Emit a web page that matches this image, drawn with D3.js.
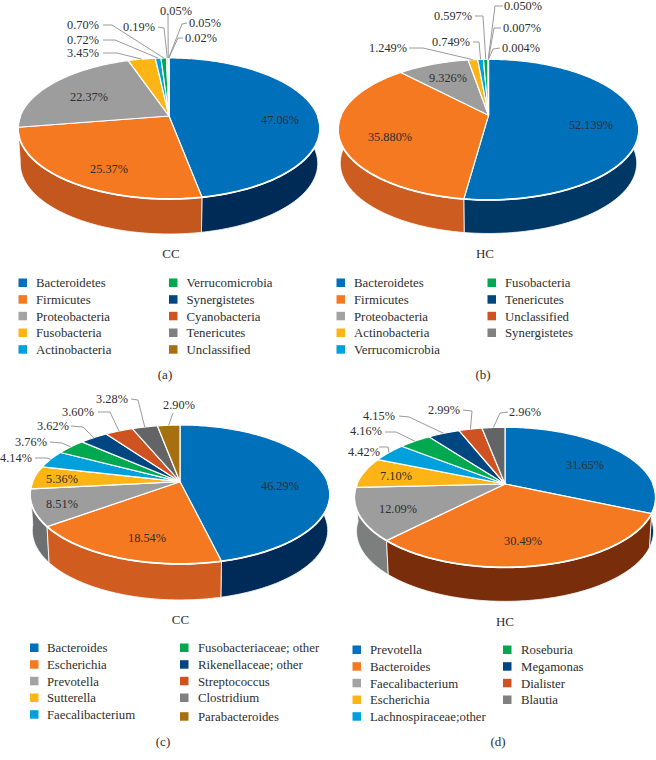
<!DOCTYPE html>
<html>
<head>
<meta charset="utf-8">
<script src="https://cdn.jsdelivr.net/npm/d3@7"></script>
<style>
  body { margin: 0; background: #fff; }
  text { font-family: "Liberation Serif", serif; fill: #2e2e2e; }
</style>
</head>
<body>
<div id="chart"></div>
<script>
// Panel (a) phylum, CC
var aNames = ["Bacteroidetes","Firmicutes","Proteobacteria","Fusobacteria","Actinobacteria","Verrucomicrobia","Synergistetes","Cyanobacteria","Tenericutes","Unclassified"];
var aValues = [47.06,25.37,22.37,3.45,0.72,0.70,0.19,0.05,0.05,0.02];

// Panel (b) phylum, HC
var bNames = ["Bacteroidetes","Firmicutes","Proteobacteria","Actinobacteria","Verrucomicrobia","Fusobacteria","Tenericutes","Unclassified","Synergistetes"];
var bValues = [52.139,35.880,9.326,1.249,0.749,0.597,0.050,0.007,0.004];

// Panel (c) genus, CC
var cNames = ["Bacteroides","Escherichia","Prevotella","Sutterella","Faecalibacterium","Fusobacteriaceae; other","Rikenellaceae; other","Streptococcus","Clostridium","Parabacteroides"];
var cValues = [46.29,18.54,8.51,5.36,4.14,3.76,3.62,3.60,3.28,2.90];

// Panel (d) genus, HC
var dNames = ["Prevotella","Bacteroides","Faecalibacterium","Escherichia","Lachnospiraceae;other","Roseburia","Megamonas","Dialister","Blautia"];
var dValues = [31.65,30.49,12.09,7.10,4.42,4.16,4.15,2.99,2.96];

var topColors = ["#0070ba","#f47920","#9d9d9d","#fdb515","#00a0dc","#00a950","#004680","#cf5320","#636466","#a67011"];
var swatchColors = ["#0070ba","#f47920","#a3a3a3","#fdb515","#00a0dc","#00a950","#004680","#cf5320","#808080","#a67011"];

// Label layout: x, y of each label centre, then the elbow and start of its leader if it has one
var aLabels = [[280,120],[109,169],[89,97],
    [83,53,103,53,117,53],[83,40,103,40,115,40],[83,25,103,25,112,25],[139,27,158,27,164,28],
    [176,11,168,15,168,15],[205,23,187,23,182,24],[201,38,183,38,178,38]];
var bLabels = [[591,125],[390,137],[448,78],
    [388,48,409,48,423,48],[451,42,473,42,479,42],[453,16,475,16,483,16],
    [523,6,503,6,495,6],[522,28,501,28,494,28],[521,48,500,48,493,49]];
var cLabels = [[280,486],[147,538],[62,504],[62,479],
    [16,458,35,458,47,458],[31,442,50,442,62,443],[53,426,71,426,83,427],[78,412,98,412,110,412],[112,399,131,399,138,400],
    [179,405,173,413,173,413]];
var dLabels = [[585,465],[523,541],[398,509],[396,476],
    [364,452,379,447,388,447],[366,431,385,432,396,432],[379,416,399,416,409,417],[444,410,463,410,472,411],
    [525,412,508,412,500,413]];

// Geometry of each tilted disc: apex, perspective, scale, wall height
var panels = [
    {names:aNames, values:aValues, digits:2, labels:aLabels, cx:169, cy:116, p:0.177, R:148.6, S:68.3, depth:35, side:["#002b57","#c3571e","#6d7070"],
     title:"CC", titleX:171, titleY:258, tag:"(a)", tagX:165, tagY:379, legendX:[18.5,169], legendTextX:[36,186.5], legendY:[283,299.7,316.3,333,349.7]},
    {names:bNames, values:bValues, digits:3, labels:bLabels, cx:488.5, cy:115.3, p:0.204, R:147.3, S:67.4, depth:33.5, side:["#003865","#cc5c20","#6d7070"],
     title:"HC", titleX:485, titleY:258, tag:"(b)", tagX:483, tagY:379, legendX:[336.5,487.5], legendTextX:[354,505], legendY:[283,299.7,316.3,333,349.7]},
    {names:cNames, values:cValues, digits:2, labels:cLabels, cx:180, cy:481.7, p:0.184, R:147.4, S:67.1, depth:36, side:["#002a57","#d05c20","#6d7070"],
     title:"CC", titleX:180.5, titleY:624, tag:"(c)", tagX:163, tagY:746, legendX:[30,180], legendTextX:[47,198], legendY:[648,664.7,681.3,698,714.7,716.7]},
    {names:dNames, values:dValues, digits:2, labels:dLabels, cx:505, cy:484, p:0.19, R:148, S:67.5, depth:34, side:["#00305c","#792d0b","#7d7f7f"],
     title:"HC", titleX:505, titleY:626, tag:"(d)", tagX:498, tagY:746, legendX:[352.5,503], legendTextX:[370,521], legendY:[650,666.7,683.3,700,716.7]}
];

var svg = d3.select("#chart").append("svg")
    .attr("width", 656)
    .attr("height", 760);

var line = d3.line();
var pie = d3.pie().sort(null);
var LOWER_SHRINK = 0.985;
var ARC_STEP = 0.02;

// Projects a point of the disc, theta clockwise from twelve o'clock
function project(g, theta, r, lower) {
    var u = r * Math.sin(theta);
    var v = -r * Math.cos(theta);
    var w = 1 - g.p * v;
    var x = g.R * u / w;
    var y = g.S * v / w;
    if (lower) {
        return [g.cx + x * LOWER_SHRINK, g.cy + y + g.depth];
    }
    return [g.cx + x, g.cy + y];
}

function arcAngles(a0, a1) {
    var n = Math.max(2, Math.ceil((a1 - a0) / ARC_STEP));
    return d3.range(n + 1).map(function(i) { return a0 + (a1 - a0) * i / n; });
}

panels.forEach(function(g) {
    var slices = pie(g.values);
    var layer = svg.append("g");

    // Walls, back to front
    var walls = slices.slice().sort(function(s, t) {
        return -Math.cos((s.startAngle + s.endAngle) / 2) - (-Math.cos((t.startAngle + t.endAngle) / 2));
    });
    layer.selectAll("path.wall")
        .data(walls)
        .enter()
        .append("path")
        .attr("class", "wall")
        .attr("fill", function(d) {
            return g.side[d.index] || d3.color(topColors[d.index]).darker(0.8).formatHex();
        })
        .attr("stroke", "#fff")
        .attr("stroke-width", 0.8)
        .attr("d", function(d) {
            var angles = arcAngles(d.startAngle, d.endAngle);
            var upper = angles.map(function(a) { return project(g, a, 1, false); });
            var lower = angles.slice().reverse().map(function(a) { return project(g, a, 1, true); });
            return line(upper.concat(lower)) + "Z";
        });

    // Top face
    layer.selectAll("path.slice")
        .data(slices)
        .enter()
        .append("path")
        .attr("class", "slice")
        .attr("fill", function(d) { return topColors[d.index]; })
        .attr("stroke", "#fff")
        .attr("stroke-width", 1.2)
        .attr("stroke-linejoin", "round")
        .attr("d", function(d) {
            var rim = arcAngles(d.startAngle, d.endAngle).map(function(a) { return project(g, a, 1, false); });
            return line([[g.cx, g.cy]].concat(rim)) + "Z";
        });

    // Bright front edge of the disc
    layer.append("path")
        .attr("fill", "none")
        .attr("stroke", "#fff")
        .attr("stroke-width", 1.8)
        .attr("d", line(arcAngles(Math.PI / 2, 3 * Math.PI / 2).map(function(a) { return project(g, a, 1, false); })));

    // Leader lines
    layer.selectAll("path.leader")
        .data(slices.filter(function(d) { return g.labels[d.index].length > 2; }))
        .enter()
        .append("path")
        .attr("class", "leader")
        .attr("fill", "none")
        .attr("stroke", "#9a9a9a")
        .attr("stroke-width", 1)
        .attr("d", function(d) {
            var pos = g.labels[d.index];
            var end = project(g, (d.startAngle + d.endAngle) / 2, 1, false);
            return line([[pos[2], pos[3]], [pos[4], pos[5]], end]);
        });

    // Value labels
    layer.selectAll("text.value")
        .data(slices)
        .enter()
        .append("text")
        .attr("class", "value")
        .attr("x", function(d) { return g.labels[d.index][0]; })
        .attr("y", function(d) { return g.labels[d.index][1]; })
        .attr("dy", "0.34em")
        .attr("text-anchor", "middle")
        .attr("font-size", "12.3px")
        .text(function(d) { return g.values[d.index].toFixed(g.digits) + "%"; });

    layer.append("text")
        .attr("x", g.titleX)
        .attr("y", g.titleY)
        .attr("text-anchor", "middle")
        .attr("font-size", "13px")
        .text(g.title);

    layer.append("text")
        .attr("x", g.tagX)
        .attr("y", g.tagY)
        .attr("text-anchor", "middle")
        .attr("font-size", "13px")
        .text(g.tag);

    // Legend, five rows per column
    var rowY = function(i) {
        if (i >= 5) { return i === 9 && g.legendY[5] ? g.legendY[5] : g.legendY[i - 5]; }
        return g.legendY[i];
    };
    var items = layer.selectAll("g.item")
        .data(g.names)
        .enter()
        .append("g")
        .attr("class", "item");

    items.append("rect")
        .attr("x", function(d, i) { return g.legendX[i < 5 ? 0 : 1]; })
        .attr("y", function(d, i) { return rowY(i) - 4.5; })
        .attr("width", 8.5)
        .attr("height", 8.5)
        .attr("fill", function(d, i) { return swatchColors[i]; });

    items.append("text")
        .attr("x", function(d, i) { return g.legendTextX[i < 5 ? 0 : 1]; })
        .attr("y", function(d, i) { return rowY(i); })
        .attr("dy", "0.34em")
        .attr("font-size", "12.8px")
        .text(function(d) { return d; });
});
</script>
</body>
</html>
